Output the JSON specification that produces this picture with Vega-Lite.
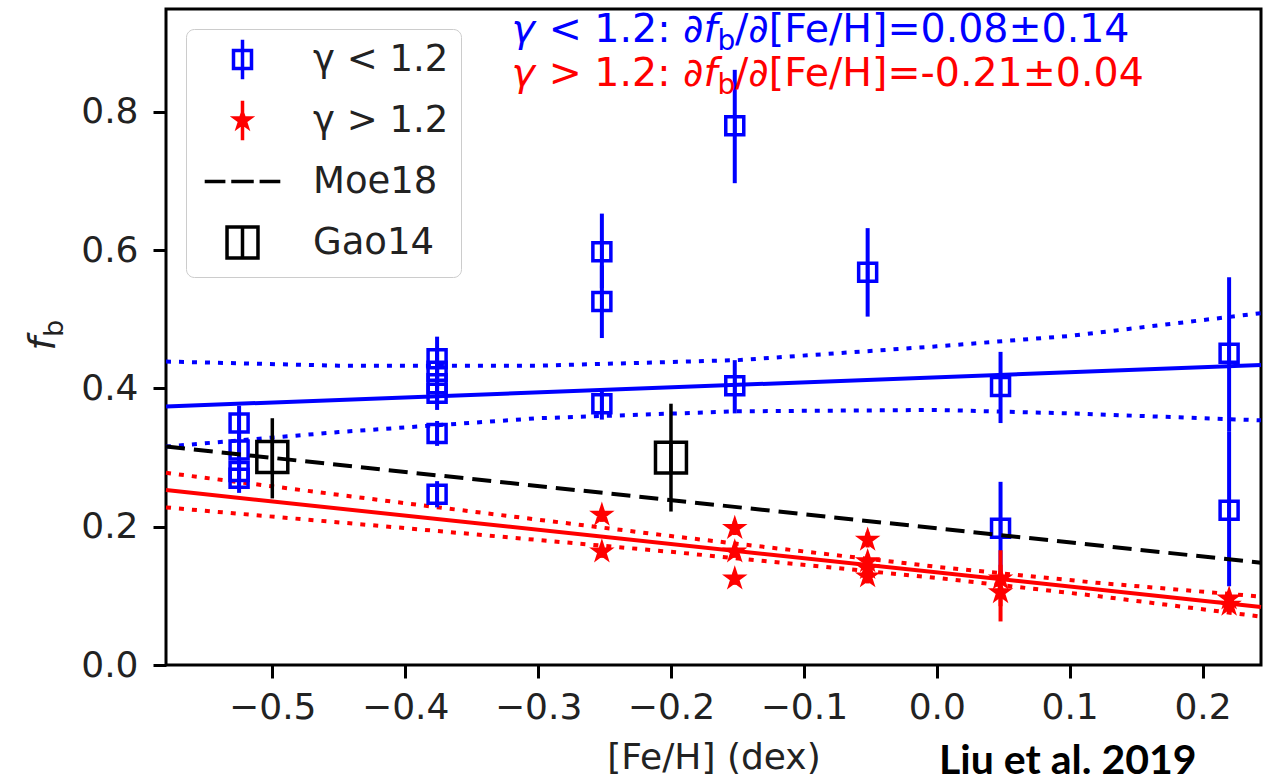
{
  "$schema": "https://vega.github.io/schema/vega-lite/v6.json",
  "width": 1095,
  "height": 656,
  "autosize": "none",
  "padding": {"left": 166, "top": 9, "right": 16, "bottom": 117},
  "background": "#ffffff",
  "config": {
    "view": {"stroke": "#000000", "strokeWidth": 3},
    "font": "DejaVu Sans",
    "axis": {
      "domain": false,
      "grid": false,
      "tickColor": "#000000",
      "tickWidth": 3,
      "tickSize": 13,
      "labelFont": "DejaVu Sans",
      "labelFontSize": 36,
      "labelColor": "#222222",
      "titleFont": "DejaVu Sans",
      "titleFontSize": 36,
      "titleFontWeight": "normal",
      "titleColor": "#222222"
    },
    "legend": {
      "orient": "top-left",
      "offset": 20,
      "padding": 12,
      "fillColor": "#ffffff",
      "strokeColor": "#cccccc",
      "cornerRadius": 8,
      "labelFont": "DejaVu Sans",
      "labelFontSize": 37,
      "labelColor": "#222222",
      "labelOffset": 52,
      "rowPadding": 6,
      "gridAlign": "all",
      "symbolSize": 324,
      "symbolStrokeWidth": 3.5,
      "symbolOffset": 26
    }
  },
  "resolve": {"scale": {"shape": "independent", "stroke": "independent", "fill": "independent"}},
  "datasets": {
    "pts": [
      {"grp": "γ < 1.2", "feh": -0.525, "fb": 0.350, "lo": 0.325, "hi": 0.375},
      {"grp": "γ < 1.2", "feh": -0.525, "fb": 0.311, "lo": 0.290, "hi": 0.335},
      {"grp": "γ < 1.2", "feh": -0.525, "fb": 0.280, "lo": 0.260, "hi": 0.300},
      {"grp": "γ < 1.2", "feh": -0.525, "fb": 0.270, "lo": 0.249, "hi": 0.290},
      {"grp": "γ < 1.2", "feh": -0.376, "fb": 0.443, "lo": 0.415, "hi": 0.475},
      {"grp": "γ < 1.2", "feh": -0.376, "fb": 0.425, "lo": 0.400, "hi": 0.455},
      {"grp": "γ < 1.2", "feh": -0.376, "fb": 0.407, "lo": 0.383, "hi": 0.432},
      {"grp": "γ < 1.2", "feh": -0.376, "fb": 0.393, "lo": 0.369, "hi": 0.418},
      {"grp": "γ < 1.2", "feh": -0.376, "fb": 0.335, "lo": 0.317, "hi": 0.353},
      {"grp": "γ < 1.2", "feh": -0.376, "fb": 0.247, "lo": 0.228, "hi": 0.266},
      {"grp": "γ < 1.2", "feh": -0.252, "fb": 0.598, "lo": 0.545, "hi": 0.653},
      {"grp": "γ < 1.2", "feh": -0.252, "fb": 0.526, "lo": 0.473, "hi": 0.578},
      {"grp": "γ < 1.2", "feh": -0.252, "fb": 0.378, "lo": 0.355, "hi": 0.400},
      {"grp": "γ < 1.2", "feh": -0.152, "fb": 0.780, "lo": 0.697, "hi": 0.861},
      {"grp": "γ < 1.2", "feh": -0.152, "fb": 0.404, "lo": 0.364, "hi": 0.441},
      {"grp": "γ < 1.2", "feh": -0.052, "fb": 0.568, "lo": 0.504, "hi": 0.632},
      {"grp": "γ < 1.2", "feh": 0.048, "fb": 0.403, "lo": 0.350, "hi": 0.453},
      {"grp": "γ < 1.2", "feh": 0.048, "fb": 0.198, "lo": 0.132, "hi": 0.265},
      {"grp": "γ < 1.2", "feh": 0.220, "fb": 0.451, "lo": 0.338, "hi": 0.561},
      {"grp": "γ < 1.2", "feh": 0.220, "fb": 0.224, "lo": 0.114, "hi": 0.338},
      {"grp": "γ > 1.2", "feh": -0.252, "fb": 0.217, "lo": 0.207, "hi": 0.227},
      {"grp": "γ > 1.2", "feh": -0.252, "fb": 0.164, "lo": 0.155, "hi": 0.173},
      {"grp": "γ > 1.2", "feh": -0.152, "fb": 0.198, "lo": 0.188, "hi": 0.208},
      {"grp": "γ > 1.2", "feh": -0.152, "fb": 0.164, "lo": 0.155, "hi": 0.173},
      {"grp": "γ > 1.2", "feh": -0.152, "fb": 0.125, "lo": 0.116, "hi": 0.134},
      {"grp": "γ > 1.2", "feh": -0.052, "fb": 0.181, "lo": 0.170, "hi": 0.192},
      {"grp": "γ > 1.2", "feh": -0.052, "fb": 0.150, "lo": 0.140, "hi": 0.160},
      {"grp": "γ > 1.2", "feh": -0.052, "fb": 0.140, "lo": 0.130, "hi": 0.150},
      {"grp": "γ > 1.2", "feh": -0.052, "fb": 0.128, "lo": 0.118, "hi": 0.138},
      {"grp": "γ > 1.2", "feh": 0.048, "fb": 0.125, "lo": 0.085, "hi": 0.166},
      {"grp": "γ > 1.2", "feh": 0.048, "fb": 0.105, "lo": 0.063, "hi": 0.145},
      {"grp": "γ > 1.2", "feh": 0.220, "fb": 0.096, "lo": 0.086, "hi": 0.106},
      {"grp": "γ > 1.2", "feh": 0.220, "fb": 0.087, "lo": 0.077, "hi": 0.097},
      {"grp": "Gao14", "feh": -0.500, "fb": 0.301, "lo": 0.241, "hi": 0.357},
      {"grp": "Gao14", "feh": -0.200, "fb": 0.300, "lo": 0.222, "hi": 0.378}
    ],
    "fits": [
      {"series": "blue fit", "feh": -0.58, "fb": 0.374},
      {"series": "blue fit", "feh": 0.244, "fb": 0.434},
      {"series": "blue upper", "feh": -0.58, "fb": 0.439},
      {"series": "blue upper", "feh": -0.45, "fb": 0.433},
      {"series": "blue upper", "feh": -0.30, "fb": 0.433},
      {"series": "blue upper", "feh": -0.15, "fb": 0.441},
      {"series": "blue upper", "feh": 0.00, "fb": 0.461},
      {"series": "blue upper", "feh": 0.10, "fb": 0.476},
      {"series": "blue upper", "feh": 0.244, "fb": 0.509},
      {"series": "blue lower", "feh": -0.58, "fb": 0.316},
      {"series": "blue lower", "feh": -0.45, "fb": 0.337},
      {"series": "blue lower", "feh": -0.30, "fb": 0.357},
      {"series": "blue lower", "feh": -0.15, "fb": 0.367},
      {"series": "blue lower", "feh": 0.00, "fb": 0.369},
      {"series": "blue lower", "feh": 0.10, "fb": 0.364},
      {"series": "blue lower", "feh": 0.244, "fb": 0.354},
      {"series": "red fit", "feh": -0.58, "fb": 0.253},
      {"series": "red fit", "feh": 0.244, "fb": 0.084},
      {"series": "red upper", "feh": -0.58, "fb": 0.278},
      {"series": "red upper", "feh": -0.40, "fb": 0.234},
      {"series": "red upper", "feh": -0.20, "fb": 0.1865},
      {"series": "red upper", "feh": 0.00, "fb": 0.142},
      {"series": "red upper", "feh": 0.12, "fb": 0.119},
      {"series": "red upper", "feh": 0.244, "fb": 0.099},
      {"series": "red lower", "feh": -0.58, "fb": 0.228},
      {"series": "red lower", "feh": -0.40, "fb": 0.198},
      {"series": "red lower", "feh": -0.20, "fb": 0.1637},
      {"series": "red lower", "feh": 0.00, "fb": 0.126},
      {"series": "red lower", "feh": 0.12, "fb": 0.100},
      {"series": "red lower", "feh": 0.244, "fb": 0.070},
      {"series": "Moe18", "feh": -0.58, "fb": 0.316},
      {"series": "Moe18", "feh": 0.244, "fb": 0.148}
    ]
  },
  "layer": [
    {
      "data": {"name": "fits"},
      "transform": [{"filter": "datum.series === 'blue upper' || datum.series === 'blue lower'"}],
      "mark": {"type": "line", "color": "#0000ff", "strokeWidth": 4, "strokeDash": [5, 8], "strokeCap": "butt"},
      "encoding": {
        "x": {
          "field": "feh", "type": "quantitative",
          "scale": {"domain": [-0.58, 0.244], "nice": false, "zero": false},
          "axis": {"values": [-0.5, -0.4, -0.3, -0.2, -0.1, 0, 0.1, 0.2], "format": ".1f", "title": "[Fe/H] (dex)", "labelPadding": 12, "titlePadding": 15}
        },
        "y": {
          "field": "fb", "type": "quantitative",
          "scale": {"domain": [0, 0.949], "nice": false, "zero": false},
          "axis": {"values": [0, 0.2, 0.4, 0.6, 0.8], "format": ".1f", "title": null, "labelPadding": 15}
        },
        "detail": {"field": "series"}
      }
    },
    {
      "data": {"name": "fits"},
      "transform": [{"filter": "datum.series === 'blue fit'"}],
      "mark": {"type": "line", "color": "#0000ff", "strokeWidth": 4},
      "encoding": {
        "x": {"field": "feh", "type": "quantitative"},
        "y": {"field": "fb", "type": "quantitative"}
      }
    },
    {
      "data": {"name": "fits"},
      "transform": [{"filter": "datum.series === 'red upper' || datum.series === 'red lower'"}],
      "mark": {"type": "line", "color": "#ff0000", "strokeWidth": 4, "strokeDash": [5, 8], "strokeCap": "butt"},
      "encoding": {
        "x": {"field": "feh", "type": "quantitative"},
        "y": {"field": "fb", "type": "quantitative"},
        "detail": {"field": "series"}
      }
    },
    {
      "data": {"name": "fits"},
      "transform": [{"filter": "datum.series === 'red fit'"}],
      "mark": {"type": "line", "color": "#ff0000", "strokeWidth": 4},
      "encoding": {
        "x": {"field": "feh", "type": "quantitative"},
        "y": {"field": "fb", "type": "quantitative"}
      }
    },
    {
      "data": {"name": "pts"},
      "transform": [{"filter": "datum.grp === 'γ < 1.2'"}],
      "mark": {"type": "rule", "color": "#0000ff", "strokeWidth": 4},
      "encoding": {
        "x": {"field": "feh", "type": "quantitative"},
        "y": {"field": "lo", "type": "quantitative"},
        "y2": {"field": "hi"}
      }
    },
    {
      "data": {"name": "pts"},
      "transform": [{"filter": "datum.grp === 'γ > 1.2'"}],
      "mark": {"type": "rule", "color": "#ff0000", "strokeWidth": 4},
      "encoding": {
        "x": {"field": "feh", "type": "quantitative"},
        "y": {"field": "lo", "type": "quantitative"},
        "y2": {"field": "hi"}
      }
    },
    {
      "data": {"name": "pts"},
      "transform": [{"filter": "datum.grp === 'Gao14'"}],
      "mark": {"type": "rule", "color": "#000000", "strokeWidth": 3.5},
      "encoding": {
        "x": {"field": "feh", "type": "quantitative"},
        "y": {"field": "lo", "type": "quantitative"},
        "y2": {"field": "hi"}
      }
    },
    {
      "data": {"name": "pts"},
      "mark": {"type": "point", "filled": true, "opacity": 1, "size": 324, "strokeWidth": 3.5},
      "encoding": {
        "x": {"field": "feh", "type": "quantitative"},
        "y": {"field": "fb", "type": "quantitative"},
        "shape": {
          "field": "grp", "type": "nominal", "legend": null,
          "scale": {
            "domain": ["γ < 1.2", "γ > 1.2", "Gao14"],
            "range": [
              "M-1,-1H1V1H-1Z M0,-1V1",
              "M0,-0.86L0.1931,-0.2658L0.8179,-0.2658L0.3124,0.1015L0.5055,0.6958L0,0.3285L-0.5055,0.6958L-0.3124,0.1015L-0.8179,-0.2658L-0.1931,-0.2658Z",
              "M-1.72,-1.72H1.72V1.72H-1.72Z M0,-1.72V1.72"
            ]
          }
        },
        "stroke": {
          "field": "grp", "type": "nominal", "legend": null,
          "scale": {"domain": ["γ < 1.2", "γ > 1.2", "Gao14"], "range": ["#0000ff", "#ff0000", "#000000"]}
        },
        "fill": {
          "field": "grp", "type": "nominal", "legend": null,
          "scale": {"domain": ["γ < 1.2", "γ > 1.2", "Gao14"], "range": ["transparent", "#ff0000", "transparent"]}
        }
      }
    },
    {
      "data": {"name": "fits"},
      "transform": [{"filter": "datum.series === 'Moe18'"}],
      "mark": {"type": "line", "color": "#000000", "strokeWidth": 4, "strokeDash": [19, 9], "strokeCap": "butt"},
      "encoding": {
        "x": {"field": "feh", "type": "quantitative"},
        "y": {"field": "fb", "type": "quantitative"}
      }
    },
    {
      "description": "Legend key: errorbar handles, Moe18 dashes and the Gao14 box.",
      "data": {"name": "pts"},
      "transform": [{"filter": "false"}],
      "mark": {"type": "point", "filled": true, "opacity": 1, "size": 324, "strokeWidth": 3.5},
      "encoding": {
        "x": {"field": "feh", "type": "quantitative"},
        "y": {"field": "fb", "type": "quantitative"},
        "shape": {
          "field": "grp", "type": "nominal",
          "scale": {
            "domain": ["γ < 1.2", "γ > 1.2", "Moe18", "Gao14"],
            "range": [
              "M-1,-1H1V1H-1Z M0,-2.2V2.2",
              "M0,-0.86L0.1931,-0.2658L0.8179,-0.2658L0.3124,0.1015L0.5055,0.6958L0,0.3285L-0.5055,0.6958L-0.3124,0.1015L-0.8179,-0.2658L-0.1931,-0.2658Z M0,-2.2V2.2",
              "M-4.2,0H-1.9M-1.25,0H1.25M1.9,0H4.2",
              "M-1.72,-1.72H1.72V1.72H-1.72Z M0,-1.72V1.72"
            ]
          },
          "legend": {"title": null}
        },
        "stroke": {
          "field": "grp", "type": "nominal",
          "scale": {"domain": ["γ < 1.2", "γ > 1.2", "Moe18", "Gao14"], "range": ["#0000ff", "#ff0000", "#000000", "#000000"]},
          "legend": {"title": null}
        },
        "fill": {
          "field": "grp", "type": "nominal",
          "scale": {"domain": ["γ < 1.2", "γ > 1.2", "Moe18", "Gao14"], "range": ["transparent", "#ff0000", "transparent", "transparent"]},
          "legend": {"title": null}
        }
      }
    },
    {
      "data": {"values": [{}]},
      "mark": {"type": "text", "text": "γ", "fontStyle": "italic", "fontSize": 39.5, "color": "#0000ff", "align": "left", "baseline": "alphabetic"},
      "encoding": {"x": {"datum": -0.32}, "y": {"datum": 0.9012}}
    },
    {
      "data": {"values": [{}]},
      "mark": {"type": "text", "text": " < 1.2: ∂", "fontSize": 39.5, "color": "#0000ff", "align": "right", "baseline": "alphabetic", "dx": -14},
      "encoding": {"x": {"datum": -0.165}, "y": {"datum": 0.9012}}
    },
    {
      "data": {"values": [{}]},
      "mark": {"type": "text", "text": "f", "fontStyle": "italic", "fontSize": 39.5, "color": "#0000ff", "align": "right", "baseline": "alphabetic"},
      "encoding": {"x": {"datum": -0.165}, "y": {"datum": 0.9012}}
    },
    {
      "data": {"values": [{}]},
      "mark": {"type": "text", "text": "b", "fontSize": 28, "color": "#0000ff", "align": "left", "baseline": "alphabetic", "dy": 8},
      "encoding": {"x": {"datum": -0.165}, "y": {"datum": 0.9012}}
    },
    {
      "data": {"values": [{}]},
      "mark": {"type": "text", "text": "/∂[Fe/H]=0.08±0.14", "fontSize": 39.5, "color": "#0000ff", "align": "left", "baseline": "alphabetic", "dx": 17.5},
      "encoding": {"x": {"datum": -0.165}, "y": {"datum": 0.9012}}
    },
    {
      "data": {"values": [{}]},
      "mark": {"type": "text", "text": "γ", "fontStyle": "italic", "fontSize": 39.5, "color": "#ff0000", "align": "left", "baseline": "alphabetic"},
      "encoding": {"x": {"datum": -0.32}, "y": {"datum": 0.8376}}
    },
    {
      "data": {"values": [{}]},
      "mark": {"type": "text", "text": " > 1.2: ∂", "fontSize": 39.5, "color": "#ff0000", "align": "right", "baseline": "alphabetic", "dx": -14},
      "encoding": {"x": {"datum": -0.165}, "y": {"datum": 0.8376}}
    },
    {
      "data": {"values": [{}]},
      "mark": {"type": "text", "text": "f", "fontStyle": "italic", "fontSize": 39.5, "color": "#ff0000", "align": "right", "baseline": "alphabetic"},
      "encoding": {"x": {"datum": -0.165}, "y": {"datum": 0.8376}}
    },
    {
      "data": {"values": [{}]},
      "mark": {"type": "text", "text": "b", "fontSize": 28, "color": "#ff0000", "align": "left", "baseline": "alphabetic", "dy": 8},
      "encoding": {"x": {"datum": -0.165}, "y": {"datum": 0.8376}}
    },
    {
      "data": {"values": [{}]},
      "mark": {"type": "text", "text": "/∂[Fe/H]=-0.21±0.04", "fontSize": 39.5, "color": "#ff0000", "align": "left", "baseline": "alphabetic", "dx": 17.5},
      "encoding": {"x": {"datum": -0.165}, "y": {"datum": 0.8376}}
    },
    {
      "data": {"values": [{}]},
      "mark": {"type": "text", "text": "f", "fontStyle": "italic", "fontSize": 38, "color": "#222222", "align": "right", "baseline": "alphabetic", "angle": 270, "dy": -111},
      "encoding": {"x": {"datum": -0.58}, "y": {"datum": 0.4745}}
    },
    {
      "data": {"values": [{}]},
      "mark": {"type": "text", "text": "b", "fontSize": 27, "color": "#222222", "align": "left", "baseline": "alphabetic", "angle": 270, "dy": -103},
      "encoding": {"x": {"datum": -0.58}, "y": {"datum": 0.4745}}
    },
    {
      "data": {"values": [{}]},
      "mark": {"type": "text", "text": "Liu et al. 2019", "font": "Lato", "fontWeight": "bold", "fontSize": 41, "color": "#000000", "align": "right", "baseline": "alphabetic"},
      "encoding": {"x": {"datum": 0.1955}, "y": {"datum": -0.1577}}
    }
  ]
}
